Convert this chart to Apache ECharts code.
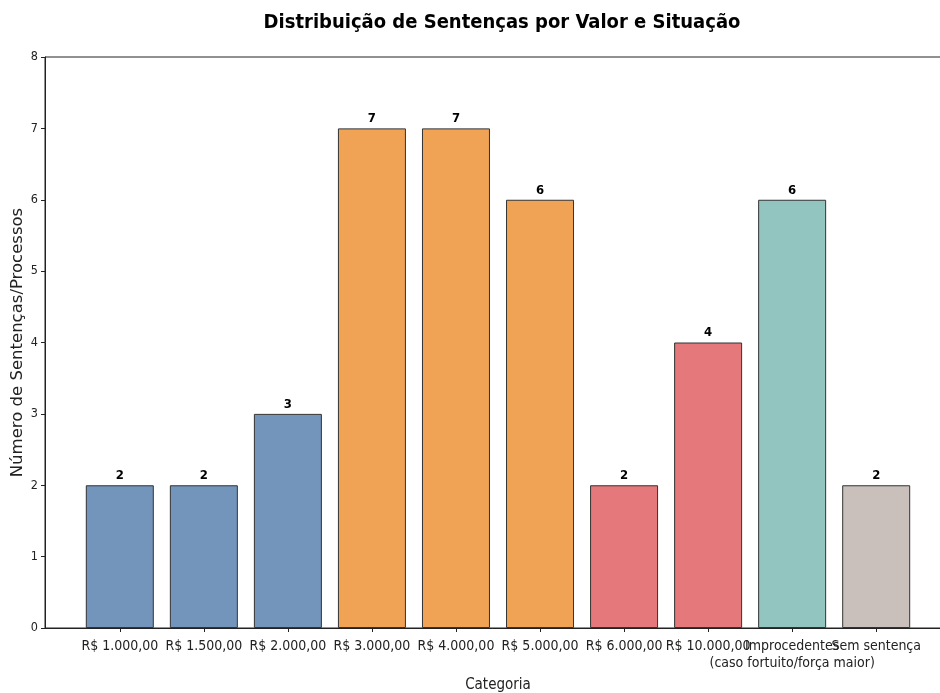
<!DOCTYPE html>
<html>
<head>
<meta charset="utf-8">
<script src="https://cdn.jsdelivr.net/npm/echarts@6/dist/echarts.min.js"></script>
<style>
  html, body { margin: 0; padding: 0; background: #fff; }
  #chart { width: 940px; height: 693px; }
</style>
</head>
<body>
<div id="chart"></div>
<script>
// 分类名称
const categories = [
  'R$ 1.000,00', 'R$ 1.500,00', 'R$ 2.000,00', 'R$ 3.000,00', 'R$ 4.000,00',
  'R$ 5.000,00', 'R$ 6.000,00', 'R$ 10.000,00',
  'Improcedentes\n(caso fortuito/força maior)', 'Sem sentença'
]
// 每个分类的数量
const counts = [2, 2, 3, 7, 7, 6, 2, 4, 6, 2]
// 每根柱子的颜色
const barColors = [
  '#7395bb', '#7395bb', '#7395bb', '#f0a255', '#f0a255',
  '#f0a255', '#e5787b', '#e5787b', '#93c5c0', '#c9c0bc'
]
const yTicks = [0, 1, 2, 3, 4, 5, 6, 7, 8]
const positions = categories.map((c, i) => i)

// x 轴两端留白（和 matplotlib 默认 margin 一样）
const xMin = -0.89
const xMax = 9.89

const condensed = 'DejaVu Sans Condensed, DejaVu Sans, sans-serif'

const chart = echarts.init(document.getElementById('chart'), null, { renderer: 'canvas' })

const option = {
  backgroundColor: '#fff',
  animation: false,
  title: {
    text: 'Distribuição de Sentenças por Valor e Situação',
    left: 497,
    top: 8,
    textAlign: 'center',
    textStyle: { fontFamily: condensed, fontWeight: 'bold', fontSize: 20, color: '#000' }
  },
  grid: {
    left: 45,
    right: -11,
    top: 57,
    bottom: 65,
    containLabel: false,
    outerBoundsMode: 'none',
    show: true,
    borderColor: '#222',
    borderWidth: 1
  },
  xAxis: {
    type: 'value',
    min: xMin,
    max: xMax,
    name: 'Categoria',
    nameLocation: 'middle',
    nameGap: 50,
    nameMoveOverlap: false,
    nameTextStyle: { fontFamily: condensed, fontSize: 15, color: '#222' },
    splitLine: { show: false },
    axisLine: { show: true, onZero: false, lineStyle: { color: '#222' } },
    axisTick: { show: true, customValues: positions, length: 4, lineStyle: { color: '#222' } },
    axisLabel: {
      // 两端加空标签，避免首尾标签重叠时把分类标签隐藏
      customValues: [xMin].concat(positions, [xMax]),
      formatter: (v) => (Number.isInteger(v) ? categories[v] : ''),
      hideOverlap: false,
      fontFamily: condensed,
      fontSize: 14,
      color: '#222',
      margin: 10,
      lineHeight: 17
    }
  },
  yAxis: {
    type: 'value',
    min: yTicks[0],
    max: yTicks[yTicks.length - 1],
    interval: 1,
    name: 'Número de Sentenças/Processos',
    nameLocation: 'middle',
    nameGap: 19,
    nameMoveOverlap: false,
    nameTextStyle: { fontFamily: 'DejaVu Sans, sans-serif', fontSize: 16.5, color: '#222' },
    splitLine: { show: false },
    axisLine: { show: true, onZero: false, lineStyle: { color: '#222' } },
    axisTick: { show: true, length: 4, lineStyle: { color: '#222' } },
    axisLabel: { fontFamily: condensed, fontSize: 12.5, color: '#222', margin: 7 }
  },
  series: [
    {
      type: 'bar',
      barWidth: 68,
      data: counts.map((v, i) => ({
        value: [positions[i], v],
        itemStyle: { color: barColors[i] }
      })),
      itemStyle: { borderColor: '#333', borderWidth: 1 },
      label: {
        show: true,
        position: 'top',
        distance: 3,
        formatter: (p) => p.value[1],
        fontFamily: condensed,
        fontWeight: 'bold',
        fontSize: 13,
        color: '#000'
      }
    }
  ]
}

chart.setOption(option)
</script>
</body>
</html>
